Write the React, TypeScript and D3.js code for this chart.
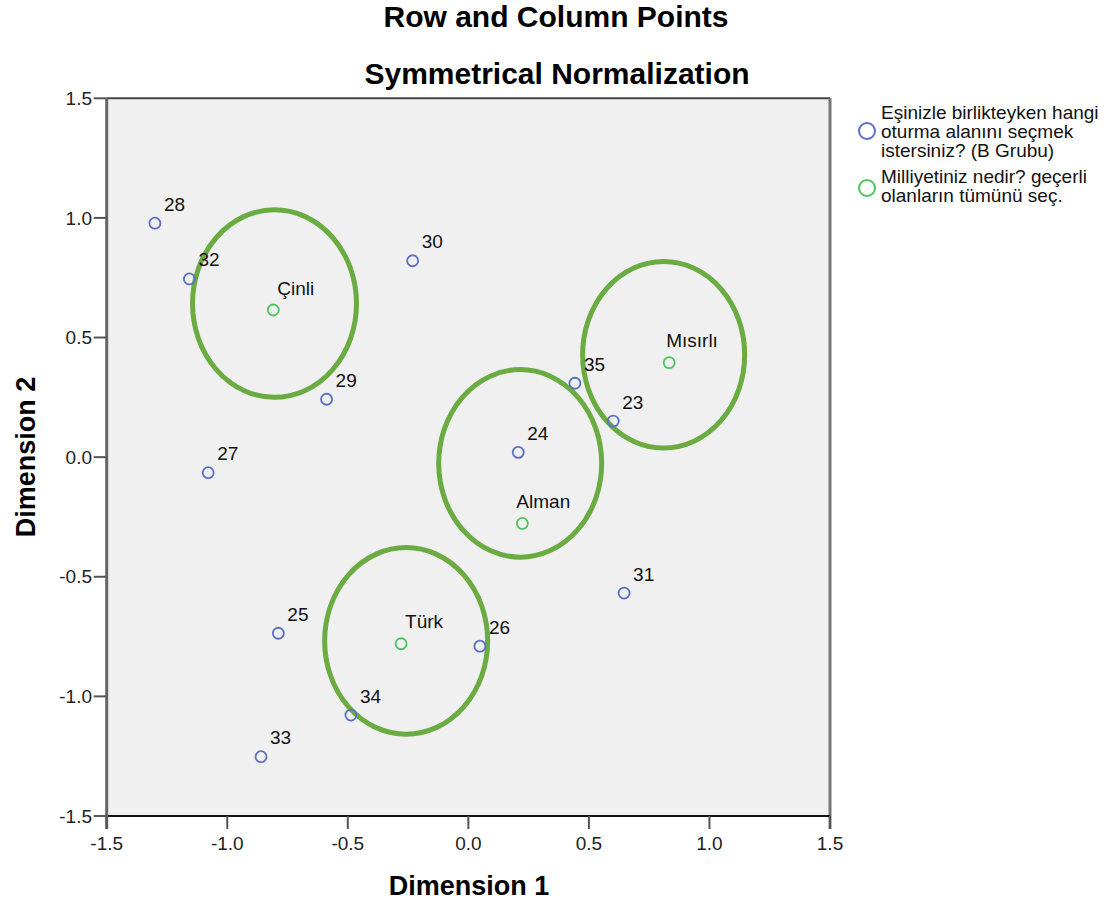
import React from "react";
import * as d3 from "d3";

const rowLabels = ["23", "24", "25", "26", "27", "28", "29", "30", "31", "32", "33", "34", "35"];
const rowDim1 = [0.601, 0.207, -0.788, 0.048, -1.079, -1.3, -0.588, -0.231, 0.646, -1.157, -0.86, -0.487, 0.442];
const rowDim2 = [0.151, 0.02, -0.736, -0.79, -0.065, 0.978, 0.242, 0.821, -0.568, 0.745, -1.252, -1.078, 0.309];

const colLabels = ["Alman", "Çinli", "Mısırlı", "Türk"];
const colDim1 = [0.224, -0.809, 0.833, -0.279];
const colDim2 = [-0.277, 0.615, 0.395, -0.78];

// hand-drawn highlight ellipses (data units)
const ellipseCx = [0.215, -0.804, 0.81, -0.258];
const ellipseCy = [-0.026, 0.642, 0.428, -0.768];
const ellipseRx = [0.338, 0.34, 0.336, 0.338];
const ellipseRy = [0.392, 0.392, 0.39, 0.39];

const ticks = [-1.5, -1.0, -0.5, 0.0, 0.5, 1.0, 1.5];

const legendRowLines = ["Eşinizle birlikteyken hangi", "oturma alanını seçmek", "istersiniz? (B Grubu)"];
const legendColLines = ["Milliyetiniz nedir? geçerli", "olanların tümünü seç."];

const colLabelDx: Record<string, number> = { "Alman": -6, "Çinli": 4, "Mısırlı": -3, "Türk": 4 };

const FONT = "'Liberation Sans', Arial, sans-serif";
const BLUE = "#5b6fc5";
const GREEN = "#4cc45e";
const ELLIPSE = "#6aab42";

export default function App() {
  const left = 106.7, right = 830, top = 98.3, bottom = 816;
  const x = d3.scaleLinear().domain([-1.5, 1.5]).range([left, right]);
  const y = d3.scaleLinear().domain([-1.5, 1.5]).range([bottom, top]);
  const fmt = (v: number) => d3.format(".1f")(v).replace("\u2212", "-");

  return (
    <div style={{ position: "absolute", left: 0, top: 0 }}>
      <svg width={1120} height={907} style={{ display: "block", background: "#fff" }} fontFamily={FONT}>
        <text x={556} y={27} textAnchor="middle" fontSize={30} fontWeight="bold" fill="#000">Row and Column Points</text>
        <text x={557} y={84} textAnchor="middle" fontSize={30} fontWeight="bold" fill="#000">Symmetrical Normalization</text>

        <rect x={left} y={top} width={right - left} height={bottom - top} fill="#f0f0f0" />

        {ellipseCx.map((cx, i) => (
          <ellipse key={"e" + i} cx={x(cx)} cy={y(ellipseCy[i])}
            rx={x(ellipseRx[i]) - x(0)} ry={y(0) - y(ellipseRy[i])}
            fill="none" stroke={ELLIPSE} strokeWidth={5} />
        ))}

        {rowLabels.map((lab, i) => (
          <g key={"r" + i}>
            <circle cx={x(rowDim1[i])} cy={y(rowDim2[i])} r={5.5} fill="none" stroke={BLUE} strokeWidth={1.8} />
            <text x={x(rowDim1[i]) + 9} y={y(rowDim2[i]) - 12.5} fontSize={19} fill="#111">{lab}</text>
          </g>
        ))}
        {colLabels.map((lab, i) => (
          <g key={"c" + i}>
            <circle cx={x(colDim1[i])} cy={y(colDim2[i])} r={5.5} fill="none" stroke={GREEN} strokeWidth={1.8} />
            <text x={x(colDim1[i]) + colLabelDx[lab]} y={y(colDim2[i]) - 15.5} fontSize={19} fill="#111">{lab}</text>
          </g>
        ))}

        {/* frame */}
        <line x1={left} x2={right} y1={top} y2={top} stroke="#444" strokeWidth={2} />
        <line x1={right} x2={right} y1={top} y2={bottom + 13} stroke="#777" strokeWidth={3} />
        <line x1={left} x2={right} y1={bottom} y2={bottom} stroke="#111" strokeWidth={2} />
        <line x1={left} x2={left} y1={top} y2={bottom + 13} stroke="#666" strokeWidth={3} />

        {ticks.map((t) => (
          <g key={"xt" + t}>
            <line x1={x(t)} x2={x(t)} y1={bottom} y2={bottom + 13} stroke="#555" strokeWidth={2} />
            <text x={x(t)} y={850} textAnchor="middle" fontSize={19} fill="#222">{fmt(t)}</text>
          </g>
        ))}
        {ticks.map((t) => (
          <g key={"yt" + t}>
            <line x1={left - 13} x2={left} y1={y(t)} y2={y(t)} stroke="#555" strokeWidth={2} />
            <text x={92} y={y(t)} dy="0.35em" textAnchor="end" fontSize={19} fill="#222">{fmt(t)}</text>
          </g>
        ))}

        <text x={469} y={895} textAnchor="middle" fontSize={27} fontWeight="bold" fill="#000">Dimension 1</text>
        <text transform={`translate(35, ${457}) rotate(-90)`} textAnchor="middle" fontSize={27} fontWeight="bold" fill="#000">Dimension 2</text>

        {/* legend */}
        <circle cx={867} cy={131} r={8} fill="none" stroke={BLUE} strokeWidth={2} />
        {legendRowLines.map((l, i) => (
          <text key={"lr" + i} x={881} y={119 + i * 19} fontSize={19} fill="#111">{l}</text>
        ))}
        <circle cx={867} cy={188} r={8} fill="none" stroke={GREEN} strokeWidth={2} />
        {legendColLines.map((l, i) => (
          <text key={"lc" + i} x={881} y={183 + i * 19} fontSize={19} fill="#111">{l}</text>
        ))}
      </svg>
    </div>
  );
}
